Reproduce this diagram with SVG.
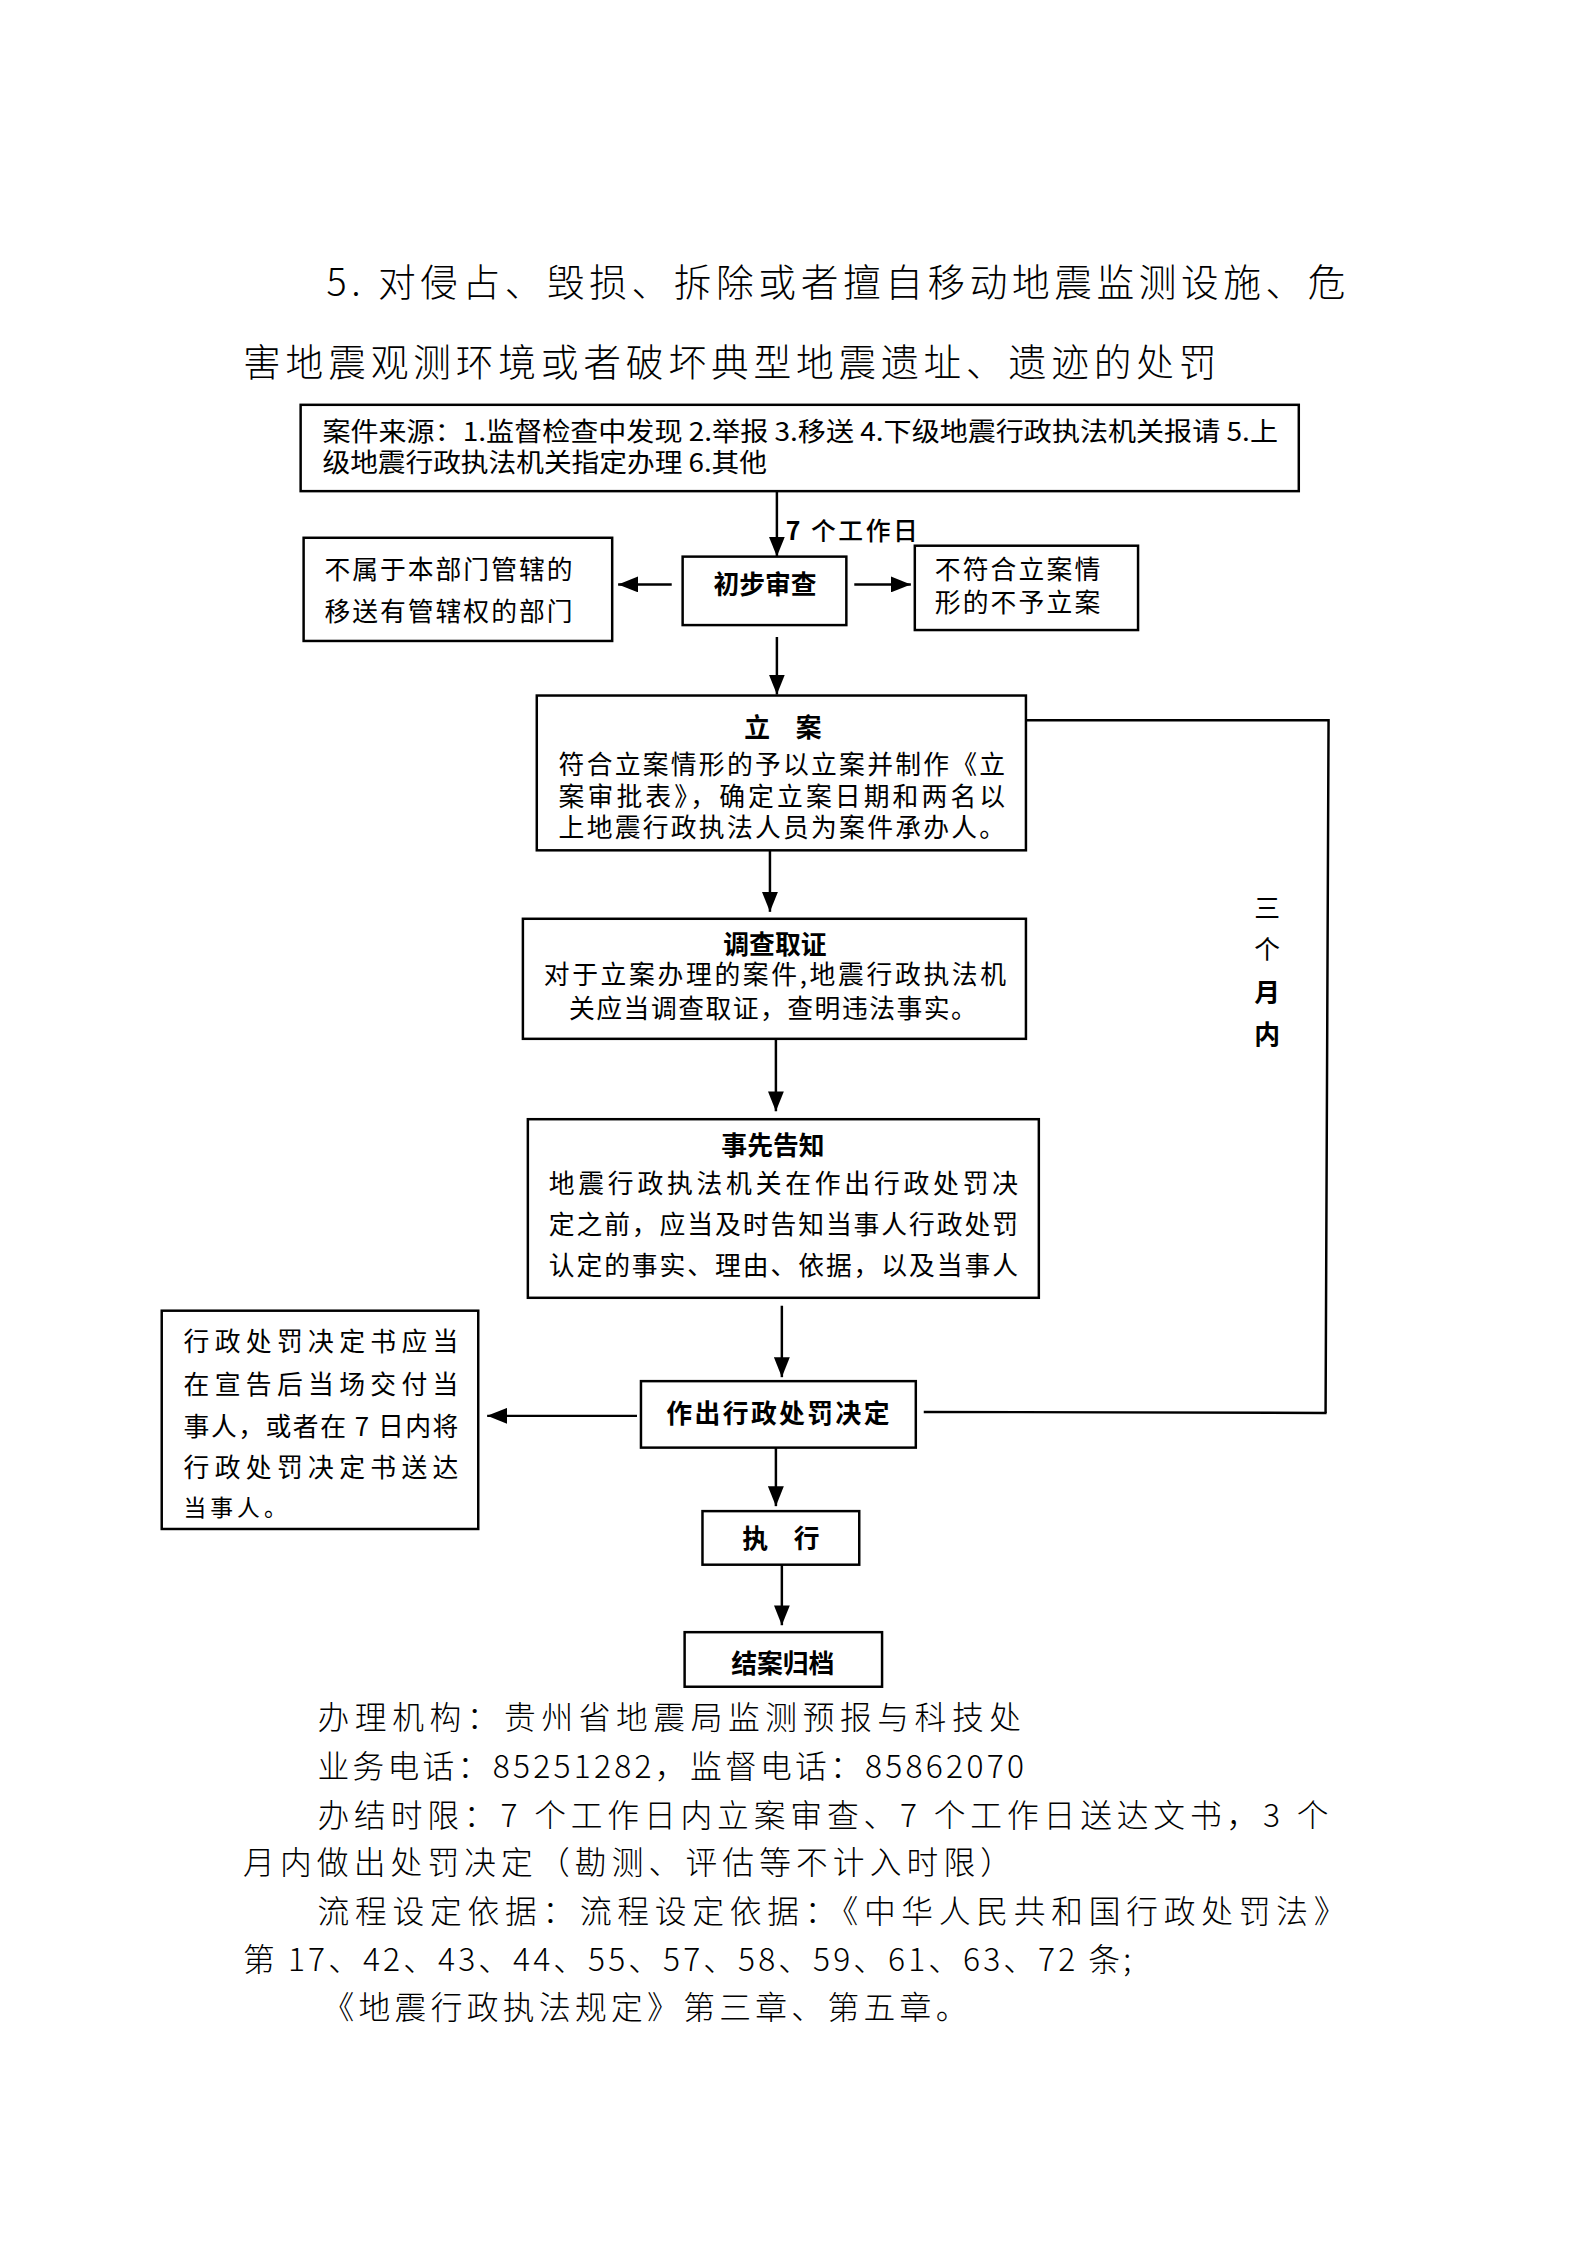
<svg xmlns="http://www.w3.org/2000/svg" width="1587" height="2245" viewBox="0 0 1587 2245">
<style>
text{font-family:"Noto Sans CJK SC","Liberation Sans",sans-serif;fill:#000;}
.t{font-size:38px;font-weight:300;}
.b{font-size:26px;}
.h{font-size:26px;font-weight:700;}
.f{font-size:32px;font-weight:300;}
rect{fill:#fff;stroke:#000;stroke-width:2.5;}
.c line,.c polyline{stroke:#000;stroke-width:2.5;fill:none;}
</style>
<defs>
<marker id="ah" markerUnits="userSpaceOnUse" markerWidth="20" markerHeight="16" refX="20" refY="8" orient="auto">
<path d="M0,0 L20,8 L0,16 z" fill="#000"/>
</marker>
</defs>
<rect x="0" y="0" width="1587" height="2245" style="fill:#fff;stroke:none"/>
<g transform="scale(0.9922)">
<g id="title">
<text class="t" x="329" y="298" textLength="1027" lengthAdjust="spacing">5. 对侵占、毁损、拆除或者擅自移动地震监测设施、危</text>
<text class="t" x="245" y="379" textLength="981" lengthAdjust="spacing">害地震观测环境或者破坏典型地震遗址、遗迹的处罚</text>
</g>
<g id="connectors" class="c">
<line x1="783" y1="495" x2="783" y2="561" marker-end="url(#ah)"/>
<line x1="677" y1="589" x2="623" y2="589" marker-end="url(#ah)"/>
<line x1="861" y1="589" x2="918" y2="589" marker-end="url(#ah)"/>
<line x1="783" y1="642" x2="783" y2="700" marker-end="url(#ah)"/>
<line x1="776" y1="857" x2="776" y2="919" marker-end="url(#ah)"/>
<line x1="782" y1="1047" x2="782" y2="1120" marker-end="url(#ah)"/>
<line x1="788" y1="1316" x2="788" y2="1388" marker-end="url(#ah)"/>
<line x1="642" y1="1427" x2="491" y2="1427" marker-end="url(#ah)"/>
<line x1="782" y1="1459" x2="782" y2="1518" marker-end="url(#ah)"/>
<line x1="788" y1="1577" x2="788" y2="1638" marker-end="url(#ah)"/>
<polyline points="1034,726 1339,726 1336,1424"/>
<line x1="931" y1="1423" x2="1337" y2="1424"/>
<text x="792" y="544" style="font-size:25px;font-weight:500" textLength="133" lengthAdjust="spacing"><tspan style="font-weight:700">7</tspan> 个工作日</text>
<text x="1277" y="925" class="b" text-anchor="middle">三</text>
<text x="1277" y="967" class="b" text-anchor="middle">个</text>
<text x="1277" y="1010" class="h" text-anchor="middle">月</text>
<text x="1277" y="1052" class="h" text-anchor="middle">内</text>
</g>
<g id="source">
<rect x="303" y="408" width="1006" height="87"/>
<text class="b" x="325" y="444" textLength="963" lengthAdjust="spacingAndGlyphs">案件来源：1.监督检查中发现 2.举报 3.移送 4.下级地震行政执法机关报请 5.上</text>
<text class="b" x="325" y="476" textLength="448" lengthAdjust="spacingAndGlyphs">级地震行政执法机关指定办理 6.其他</text>
</g>
<g id="prelim">
<rect x="688" y="561" width="165" height="69"/>
<text class="h" x="771" y="599" text-anchor="middle">初步审查</text>
</g>
<g id="transfer">
<rect x="306" y="542" width="311" height="104"/>
<text class="b" x="327" y="584" textLength="250" lengthAdjust="spacing">不属于本部门管辖的</text>
<text class="b" x="327" y="626" textLength="250" lengthAdjust="spacing">移送有管辖权的部门</text>
</g>
<g id="reject">
<rect x="922" y="550" width="225" height="85"/>
<text class="b" x="942" y="584" textLength="167" lengthAdjust="spacing">不符合立案情</text>
<text class="b" x="942" y="617" textLength="167" lengthAdjust="spacing">形的不予立案</text>
</g>
<g id="filing">
<rect x="541" y="701" width="493" height="156"/>
<text class="h" x="789" y="743" text-anchor="middle">立　案</text>
<text class="b" x="563" y="780" textLength="450" lengthAdjust="spacing">符合立案情形的予以立案并制作《立</text>
<text class="b" x="563" y="812" textLength="450" lengthAdjust="spacing">案审批表》，确定立案日期和两名以</text>
<text class="b" x="563" y="844" textLength="450" lengthAdjust="spacing">上地震行政执法人员为案件承办人。</text>
</g>
<g id="investigate">
<rect x="527" y="926" width="507" height="121"/>
<text class="h" x="781" y="961" text-anchor="middle">调查取证</text>
<text class="b" x="548" y="992" textLength="466" lengthAdjust="spacing">对于立案办理的案件,地震行政执法机</text>
<text class="b" x="779" y="1026" text-anchor="middle" textLength="411" lengthAdjust="spacing">关应当调查取证，查明违法事实。</text>
</g>
<g id="notice">
<rect x="532" y="1128" width="515" height="180"/>
<text class="h" x="779" y="1164" text-anchor="middle">事先告知</text>
<text class="b" x="553" y="1202" textLength="473" lengthAdjust="spacing">地震行政执法机关在作出行政处罚决</text>
<text class="b" x="553" y="1244" textLength="473" lengthAdjust="spacing">定之前，应当及时告知当事人行政处罚</text>
<text class="b" x="553" y="1285" textLength="473" lengthAdjust="spacing">认定的事实、理由、依据，以及当事人</text>
</g>
<g id="decision">
<rect x="646" y="1392" width="277" height="67"/>
<text class="h" x="784" y="1434" text-anchor="middle" textLength="225" lengthAdjust="spacing">作出行政处罚决定</text>
</g>
<g id="delivery">
<rect x="163" y="1321" width="319" height="220"/>
<text class="b" x="185" y="1362" textLength="277" lengthAdjust="spacing">行政处罚决定书应当</text>
<text class="b" x="185" y="1405" textLength="277" lengthAdjust="spacing">在宣告后当场交付当</text>
<text class="b" x="185" y="1447" textLength="277" lengthAdjust="spacing">事人，或者在 7 日内将</text>
<text class="b" x="185" y="1489" textLength="277" lengthAdjust="spacing">行政处罚决定书送达</text>
<text x="185" y="1528" style="font-size:23px;letter-spacing:4px">当事人。</text>
</g>
<g id="execute">
<rect x="708" y="1523" width="158" height="54"/>
<text class="h" x="787" y="1560" text-anchor="middle">执　行</text>
</g>
<g id="archive">
<rect x="690" y="1645" width="199" height="55"/>
<text class="h" x="789" y="1686" text-anchor="middle">结案归档</text>
</g>
<g id="footer">
<text class="f" x="320" y="1743" textLength="709" lengthAdjust="spacing">办理机构：贵州省地震局监测预报与科技处</text>
<text class="f" x="320" y="1792" textLength="712" lengthAdjust="spacing">业务电话：85251282，监督电话：85862070</text>
<text class="f" x="320" y="1841" textLength="1019" lengthAdjust="spacing">办结时限：7 个工作日内立案审查、7 个工作日送达文书，3 个</text>
<text class="f" x="245" y="1889" textLength="775" lengthAdjust="spacing">月内做出处罚决定（勘测、评估等不计入时限）</text>
<text class="f" x="320" y="1938" textLength="1036" lengthAdjust="spacing">流程设定依据：流程设定依据：《中华人民共和国行政处罚法》</text>
<text class="f" x="245" y="1986" textLength="895" lengthAdjust="spacing">第 17、42、43、44、55、57、58、59、61、63、72 条;</text>
<text class="f" x="325" y="2035" textLength="650" lengthAdjust="spacing">《地震行政执法规定》第三章、第五章。</text>
</g>
</g>
</svg>
